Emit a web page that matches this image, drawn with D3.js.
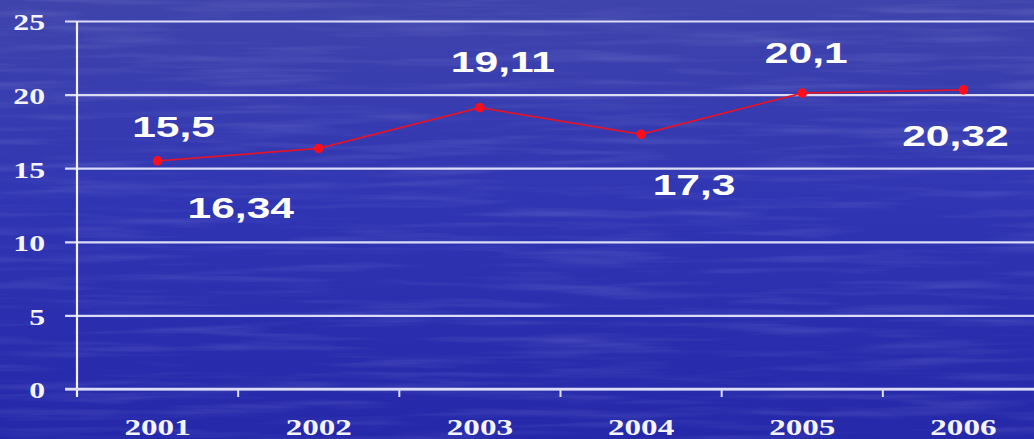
<!DOCTYPE html>
<html>
<head>
<meta charset="utf-8">
<script src="https://cdn.jsdelivr.net/npm/d3@7"></script>
<style>
  html, body { margin: 0; padding: 0; background: #2e33ad; }
  svg { display: block; }
</style>
</head>
<body>
<svg id="chart" width="1034" height="439"></svg>
<script>
// Yearly values and their printed labels
const years = ["2001", "2002", "2003", "2004", "2005", "2006"];
const values = [15.5, 16.34, 19.11, 17.3, 20.1, 20.32];
const valueLabels = ["15,5", "16,34", "19,11", "17,3", "20,1", "20,32"];
const yTicks = [0, 5, 10, 15, 20, 25];

// Label placement relative to each point (pixels)
const labelOffsets = [[16, -24], [-78, 70], [23, -36], [53, 61], [4, -30], [-8, 56]];

const W = 1034, H = 439;
const svg = d3.select("#chart");
const defs = svg.append("defs");

// Ocean-like background: vertical gradient plus faint horizontal streaks
const grad = defs.append("linearGradient").attr("id", "bg")
  .attr("x1", 0).attr("y1", 0).attr("x2", 0).attr("y2", 1);
grad.append("stop").attr("offset", "0%").attr("stop-color", "#3f44ac");
grad.append("stop").attr("offset", "45%").attr("stop-color", "#3035b3");
grad.append("stop").attr("offset", "100%").attr("stop-color", "#2528a9");

const streak = defs.append("filter").attr("id", "streaks")
  .attr("x", 0).attr("y", 0).attr("width", 1).attr("height", 1);
streak.append("feTurbulence").attr("type", "fractalNoise")
  .attr("baseFrequency", "0.006 0.11").attr("numOctaves", 3).attr("seed", 7);
streak.append("feColorMatrix").attr("type", "matrix")
  .attr("values", "0 0 0 0 0.75  0 0 0 0 0.78  0 0 0 0 1  0 0 0 1.3 -0.6");

svg.append("rect").attr("width", W).attr("height", H).attr("fill", "url(#bg)");
svg.append("rect").attr("width", W).attr("height", H)
  .attr("filter", "url(#streaks)").attr("opacity", 0.22);

// Scales
const x = d3.scaleBand().domain(years).range([77, 1044]).padding(0);
const y = d3.scaleLinear().domain([0, 25]).range([389, 21]);

const gridColor = "#dcdcf6";
const serif = "'Liberation Serif', 'Times New Roman', serif";
const stretch = 1.38;

// Horizontal gridlines with outward tick stubs
const yAxis = svg.append("g")
  .attr("transform", "translate(77,0)")
  .call(d3.axisLeft(y).tickValues(yTicks).tickSize(-(1044 - 77)).tickPadding(0).tickFormat(""));
yAxis.select(".domain").remove();
yAxis.selectAll(".tick line")
  .attr("x1", -12)
  .attr("stroke", gridColor).attr("stroke-width", 2.2);

// Y tick labels (bold serif, widened)
yAxis.selectAll(".tick").append("text")
  .attr("fill", "#f4f4ff")
  .attr("font-family", serif).attr("font-weight", "bold").attr("font-size", 23)
  .attr("text-anchor", "end").attr("dominant-baseline", "central")
  .attr("transform", `translate(-32,1) scale(${stretch},1)`)
  .text(d => d);

// Vertical axis line
svg.append("line")
  .attr("x1", 77).attr("x2", 77)
  .attr("y1", y(25)).attr("y2", y(0) + 8)
  .attr("stroke", "#f2f2ff").attr("stroke-width", 2.2);

// X axis with ticks between categories
const xAxis = svg.append("g").attr("transform", `translate(0,${y(0)})`);
xAxis.append("line")
  .attr("x1", 65).attr("x2", W)
  .attr("stroke", gridColor).attr("stroke-width", 2.4);
xAxis.selectAll(".sep").data(years.slice(1)).join("line")
  .attr("class", "sep")
  .attr("x1", d => x(d)).attr("x2", d => x(d))
  .attr("y1", 0).attr("y2", 8)
  .attr("stroke", gridColor).attr("stroke-width", 2);
xAxis.selectAll(".lbl").data(years).join("text")
  .attr("class", "lbl")
  .attr("fill", "#f4f4ff")
  .attr("font-family", serif).attr("font-weight", "bold").attr("font-size", 24)
  .attr("text-anchor", "middle")
  .attr("transform", d => `translate(${x(d) + x.bandwidth() / 2},46) scale(${stretch},1)`)
  .text(d => d);

// Data line and markers
const pts = years.map((yr, i) => ({ yr, v: values[i], label: valueLabels[i], off: labelOffsets[i] }));
const cx = d => x(d.yr) + x.bandwidth() / 2;

svg.append("path")
  .datum(pts)
  .attr("fill", "none")
  .attr("stroke", "#e0142a").attr("stroke-width", 1.8)
  .attr("d", d3.line().x(cx).y(d => y(d.v)));

svg.selectAll(".dot").data(pts).join("circle")
  .attr("class", "dot")
  .attr("cx", cx).attr("cy", d => y(d.v)).attr("r", 4.8)
  .attr("fill", "#ff0d1a");

// Value labels
svg.selectAll(".val").data(pts).join("text")
  .attr("class", "val")
  .attr("fill", "#ffffff")
  .attr("font-family", "'Liberation Sans', Arial, sans-serif")
  .attr("font-weight", "bold").attr("font-size", 30)
  .attr("text-anchor", "middle")
  .attr("transform", d => `translate(${cx(d) + d.off[0]},${y(d.v) + d.off[1]}) scale(1.42,1)`)
  .text(d => d.label);
</script>
</body>
</html>
